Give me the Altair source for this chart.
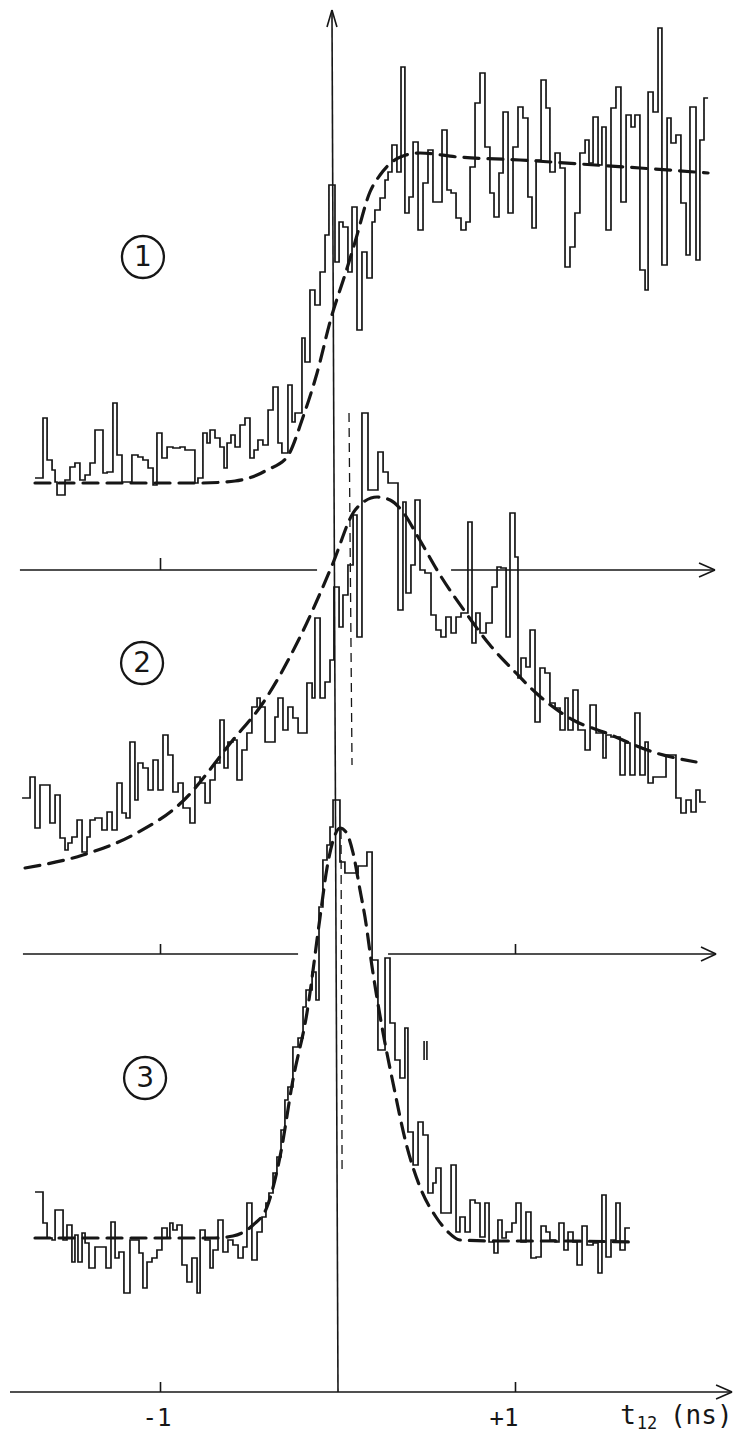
import altair as alt
import pandas as pd

# ---------------- data ----------------
# time t12 in ns (left edge of each histogram step), counts in arbitrary (offset) units

p1_t = [-1.707, -1.662, -1.639, -1.611, -1.594, -1.583, -1.538, -1.510, -1.482, -1.454,
        -1.425, -1.397, -1.369, -1.324, -1.301, -1.268, -1.245, -1.217, -1.161, -1.127,
        -1.099, -1.070, -1.042, -1.020, -0.992, -0.963, -0.930, -0.890, -0.862, -0.834,
        -0.806, -0.789, -0.761, -0.738, -0.721, -0.693, -0.665, -0.642, -0.625, -0.603,
        -0.580, -0.552, -0.524, -0.496, -0.473, -0.451, -0.423, -0.394, -0.366, -0.338,
        -0.316, -0.282, -0.259, -0.242, -0.203, -0.186, -0.158, -0.130, -0.101, -0.073,
        -0.051, -0.017, 0.006, 0.028, 0.056, 0.079, 0.107, 0.135, 0.163, 0.192,
        0.208, 0.237, 0.265, 0.282, 0.304, 0.332, 0.355, 0.377, 0.400, 0.423,
        0.451, 0.479, 0.507, 0.535, 0.586, 0.614, 0.637, 0.665, 0.693, 0.721,
        0.744, 0.772, 0.800, 0.828, 0.856, 0.879, 0.907, 0.930, 0.958, 0.986,
        1.014, 1.042, 1.070, 1.093, 1.116, 1.144, 1.172, 1.194, 1.223, 1.251,
        1.279, 1.307, 1.335, 1.363, 1.392, 1.414, 1.437, 1.465, 1.487, 1.510,
        1.538, 1.566, 1.594, 1.623, 1.651, 1.673, 1.701, 1.730, 1.747, 1.775,
        1.803, 1.825, 1.854, 1.876, 1.904, 1.932, 1.961, 1.983, 2.017, 2.039,
        2.062]
p1_n = [914, 974, 932, 922, 910, 897, 912, 925, 929, 912,
        917, 929, 962, 919, 920, 989, 937, 910, 937, 935,
        932, 924, 907, 959, 934, 945, 944, 945, 942, 942,
        909, 914, 959, 949, 962, 954, 945, 924, 949, 957,
        945, 967, 974, 934, 942, 952, 947, 982, 1005, 949,
        939, 1007, 970, 979, 1054, 1030, 1102, 1087, 1120, 1157,
        1207, 1130, 1170, 1165, 1120, 1185, 1062, 1140, 1114, 1170,
        1182, 1194, 1212, 1220, 1247, 1220, 1325, 1179, 1195, 1250,
        1162, 1209, 1242, 1190, 1262, 1202, 1199, 1174, 1162, 1170,
        1225, 1289, 1319, 1245, 1199, 1175, 1219, 1280, 1179, 1245,
        1285, 1274, 1195, 1164, 1232, 1312, 1284, 1220, 1239, 1224,
        1125, 1145, 1179, 1239, 1252, 1229, 1275, 1227, 1265, 1162,
        1284, 1305, 1190, 1277, 1265, 1277, 1122, 1102, 1300, 1280,
        1364, 1127, 1274, 1249, 1257, 1189, 1137, 1285, 1132, 1252,
        1294]
p1_end = 2.085

p2_t = [-1.780, -1.735, -1.707, -1.679, -1.623, -1.594, -1.566, -1.538, -1.521, -1.499,
        -1.470, -1.442, -1.414, -1.397, -1.369, -1.330, -1.301, -1.273, -1.245, -1.217,
        -1.194, -1.172, -1.144, -1.127, -1.099, -1.070, -1.042, -1.014, -0.986, -0.958,
        -0.930, -0.901, -0.873, -0.834, -0.806, -0.777, -0.749, -0.721, -0.693, -0.665,
        -0.642, -0.620, -0.592, -0.569, -0.541, -0.513, -0.485, -0.456, -0.439, -0.411,
        -0.355, -0.338, -0.310, -0.282, -0.254, -0.225, -0.175, -0.146, -0.130, -0.101,
        -0.073, -0.045, -0.023, 0.006, 0.028, 0.056, 0.085, 0.107, 0.135, 0.169,
        0.225, 0.254, 0.282, 0.338, 0.366, 0.383, 0.411, 0.434, 0.462, 0.490,
        0.524, 0.552, 0.580, 0.608, 0.637, 0.665, 0.693, 0.732, 0.755, 0.777,
        0.800, 0.834, 0.868, 0.896, 0.918, 0.947, 0.969, 0.997, 1.014, 1.031,
        1.059, 1.082, 1.110, 1.138, 1.166, 1.194, 1.223, 1.251, 1.279, 1.296,
        1.324, 1.352, 1.392, 1.420, 1.454, 1.493, 1.510, 1.538, 1.589, 1.617,
        1.645, 1.673, 1.701, 1.730, 1.747, 1.775, 1.848, 1.904, 1.932, 1.961,
        1.989, 2.017, 2.039]
p2_n = [594, 615, 564, 607, 569, 597, 554, 542, 549, 555,
        572, 540, 555, 572, 574, 562, 580, 562, 609, 579,
        574, 650, 592, 629, 624, 602, 632, 602, 657, 637,
        600, 609, 584, 569, 615, 609, 589, 612, 629, 672,
        624, 650, 652, 612, 642, 659, 685, 694, 685, 650,
        675, 694, 662, 685, 674, 659, 709, 694, 774, 694,
        710, 732, 805, 765, 797, 827, 877, 755, 979, 902,
        940, 920, 909, 782, 890, 799, 827, 892, 822, 819,
        777, 762, 755, 775, 759, 775, 779, 870, 749, 779,
        759, 769, 805, 825, 824, 755, 879, 835, 714, 734,
        725, 762, 670, 724, 719, 689, 684, 662, 694, 662,
        702, 662, 642, 687, 659, 634, 657, 655, 617, 649,
        617, 679, 617, 650, 609, 615, 637, 594, 579, 592,
        580, 602, 590]
p2_end = 2.073

p3_t = [-1.707, -1.662, -1.639, -1.611, -1.594, -1.549, -1.527, -1.499, -1.482, -1.465,
        -1.442, -1.425, -1.403, -1.369, -1.307, -1.279, -1.256, -1.234, -1.206, -1.172,
        -1.121, -1.099, -1.076, -1.048, -1.020, -0.992, -0.963, -0.947, -0.930, -0.907,
        -0.879, -0.851, -0.823, -0.794, -0.777, -0.749, -0.721, -0.704, -0.676, -0.648,
        -0.620, -0.592, -0.563, -0.535, -0.513, -0.485, -0.456, -0.428, -0.406, -0.389,
        -0.366, -0.344, -0.321, -0.299, -0.282, -0.254, -0.225, -0.197, -0.180, -0.146,
        -0.124, -0.107, -0.085, -0.062, -0.045, -0.028, 0.011, 0.039, 0.113, 0.163,
        0.192, 0.225, 0.265, 0.293, 0.321, 0.349, 0.377, 0.394, 0.423, 0.451,
        0.479, 0.507, 0.535, 0.552, 0.580, 0.637, 0.665, 0.687, 0.716, 0.744,
        0.772, 0.800, 0.828, 0.851, 0.879, 0.901, 0.924, 0.947, 0.980, 1.003,
        1.031, 1.059, 1.087, 1.116, 1.144, 1.172, 1.194, 1.223, 1.245, 1.273,
        1.296, 1.324, 1.347, 1.375, 1.403, 1.437, 1.465, 1.487, 1.510, 1.538,
        1.566, 1.589, 1.617]
p3_n = [200, 169, 154, 152, 182, 152, 167, 130, 157, 130,
        159, 149, 124, 145, 124, 170, 134, 140, 99, 152,
        139, 104, 130, 134, 142, 164, 154, 169, 162, 167,
        127, 110, 134, 99, 162, 152, 124, 142, 172, 140,
        152, 147, 134, 145, 189, 132, 160, 175, 189, 199,
        219, 235, 262, 292, 305, 345, 354, 385, 402, 420,
        392, 485, 532, 547, 565, 592, 530, 519, 526, 540,
        432, 342, 434, 369, 332, 314, 364, 260, 227, 270,
        257, 199, 209, 224, 179, 227, 160, 175, 160, 192,
        189, 155, 189, 150, 139, 172, 154, 160, 169, 189,
        150, 180, 134, 135, 166, 160, 152, 150, 169, 142,
        160, 150, 127, 166, 147, 149, 119, 197, 135, 152,
        189, 142, 164]
p3_end = 1.645

# fitted curves (dashed)
f1_t = [-1.707, -1.228, -0.777, -0.580, -0.456, -0.400, -0.287, -0.197, -0.118, -0.039,
        0.039, 0.096, 0.180, 0.237, 0.304, 0.366, 0.462, 0.676, 1.025, 1.363, 1.701, 2.085]
f1_n = [909, 909, 909, 911, 917, 922, 935, 975, 1019, 1074,
        1117, 1150, 1200, 1217, 1230, 1236, 1239, 1235, 1232, 1228, 1224, 1219]

f2_t = [-1.763, -1.437, -1.155, -0.879, -0.592, -0.423, -0.214, -0.028, 0.085, 0.152,
        0.220, 0.293, 0.366, 0.451, 0.575, 0.721, 0.856, 1.003, 1.116, 1.324, 1.510, 1.792, 2.017]
f2_n = [524, 537, 557, 590, 652, 689, 755, 829, 879, 891,
        895, 892, 880, 855, 817, 779, 747, 719, 699, 672, 659, 639, 630]

f3_t = [-1.707, -1.059, -0.693, -0.592, -0.479, -0.400, -0.327, -0.254, -0.175, -0.101,
        -0.062, -0.017, 0.011, 0.045, 0.085, 0.124, 0.152, 0.192, 0.254, 0.310,
        0.383, 0.462, 0.552, 0.620, 0.687, 0.913, 1.251, 1.645]
f3_n = [154, 154, 154, 156, 167, 185, 235, 312, 379, 475,
        524, 557, 564, 560, 539, 502, 475, 425, 359, 309,
        249, 205, 175, 160, 152, 151, 151, 150]

# zero lines of the three panels (count units) and tick values (ns)
axis_levels = [822, 438, 0]
tick_values = [-1, 1]
panel_labels = ["1", "2", "3"]
label_t = [-1.099, -1.104, -1.087]
label_n = [1135, 729, 314]

# ---------------- build tables ----------------
hist_rows = []
for k, (tt, nn, end) in enumerate([(p1_t, p1_n, p1_end), (p2_t, p2_n, p2_end), (p3_t, p3_n, p3_end)], start=1):
    for i, (a, b) in enumerate(zip(tt + [end], nn + [nn[-1]])):
        hist_rows.append({"panel": k, "i": i, "t": a, "n": b})
hist_df = pd.DataFrame(hist_rows)

fit_rows = []
for k, (tt, nn) in enumerate([(f1_t, f1_n), (f2_t, f2_n), (f3_t, f3_n)], start=1):
    for i, (a, b) in enumerate(zip(tt, nn)):
        fit_rows.append({"panel": k, "i": i, "t": a, "n": b})
fit_df = pd.DataFrame(fit_rows)

A, B, C = axis_levels
seg = [
    # vertical t=0 axis with arrow
    (-0.034, 1382, 0.0, C), (-0.034, 1382, -0.062, 1365), (-0.034, 1382, -0.006, 1365),
    # zero line of panel 1 (broken)
    (-1.792, A, -0.118, A), (0.637, A, 2.124, A),
    (2.124, A, 2.034, A + 7), (2.124, A, 2.034, A - 7),
    (tick_values[0], A, tick_values[0], A + 12),
    # zero line of panel 2 (broken)
    (-1.775, B, -0.225, B), (0.282, B, 2.130, B),
    (2.130, B, 2.045, B + 7), (2.130, B, 2.045, B - 7),
    (tick_values[0], B, tick_values[0], B + 10), (tick_values[1], B, tick_values[1], B + 10),
    # bottom time axis
    (-1.848, C, 2.220, C),
    (2.220, C, 2.130, C + 7), (2.220, C, 2.130, C - 7),
    (tick_values[0], C, tick_values[0], C + 10), (tick_values[1], C, tick_values[1], C + 10),
    # small marks
    (0.485, 332, 0.485, 351), (0.501, 332, 0.501, 351),
]
seg_df = pd.DataFrame(seg, columns=["t", "n", "t2", "n2"])

guide_df = pd.DataFrame([(0.062, 979, 0.079, 627), (0.017, 562, 0.023, 217)],
                        columns=["t", "n", "t2", "n2"])

circ_df = pd.DataFrame({"t": label_t, "n": label_n, "label": panel_labels})

tick_lab_df = pd.DataFrame({"t": [-1.02, 0.935], "n": [-34, -34], "label": ["-1", "+1"]})
unit_df = pd.DataFrame({"t": [1.590, 1.683, 1.870], "n": [-32, -37, -32],
                        "label": ["t", "12", "(ns)"], "fs": [26, 17, 26]})

# ---------------- chart ----------------
INK = "#161616"
xs = alt.Scale(domain=[-1.8592, 2.2592], nice=False, zero=False)
ys = alt.Scale(domain=[-43, 1384], nice=False, zero=False)
X = alt.X("t:Q", scale=xs, axis=None)
Y = alt.Y("n:Q", scale=ys, axis=None)

axes = alt.Chart(seg_df).mark_rule(color=INK, strokeWidth=1.6).encode(
    x=X, x2="t2:Q", y=Y, y2="n2:Q")
guides = alt.Chart(guide_df).mark_rule(color=INK, strokeWidth=1.3, strokeDash=[9, 6]).encode(
    x=X, x2="t2:Q", y=Y, y2="n2:Q")

hist = alt.Chart(hist_df).mark_line(interpolate="step-after", color=INK, strokeWidth=1.7).encode(
    x=X, y=Y, detail="panel:N", order="i:Q")

fits = alt.Chart(fit_df).mark_line(interpolate="monotone", color=INK, strokeWidth=3.2,
                                   strokeDash=[15, 9], strokeCap="round").encode(
    x=X, y=Y, detail="panel:N", order="i:Q")

circles = alt.Chart(circ_df).mark_point(shape="circle", filled=False, size=1760, strokeWidth=2.3,
                                        color=INK, opacity=1).encode(x=X, y=Y)
circ_text = alt.Chart(circ_df).mark_text(font="DejaVu Sans", fontSize=28,
                                         color=INK, baseline="middle", align="center", dy=1).encode(
    x=X, y=Y, text="label:N")

tick_text = alt.Chart(tick_lab_df).mark_text(font="DejaVu Sans Mono", fontSize=24, color=INK,
                                             baseline="alphabetic", align="center").encode(
    x=X, y=Y, text="label:N")
unit_text = alt.Chart(unit_df).mark_text(font="DejaVu Sans Mono", color=INK,
                                         baseline="alphabetic", align="left").encode(
    x=X, y=Y, text="label:N", size=alt.Size("fs:Q", scale=None))

chart = alt.layer(axes, guides, hist, fits, circles, circ_text, tick_text, unit_text).properties(
    width=731, height=1427, padding=0, autosize=alt.AutoSizeParams(type="none")
).configure_view(stroke=None)

chart.save("out.html", embed_options={"renderer": "svg", "actions": False})
